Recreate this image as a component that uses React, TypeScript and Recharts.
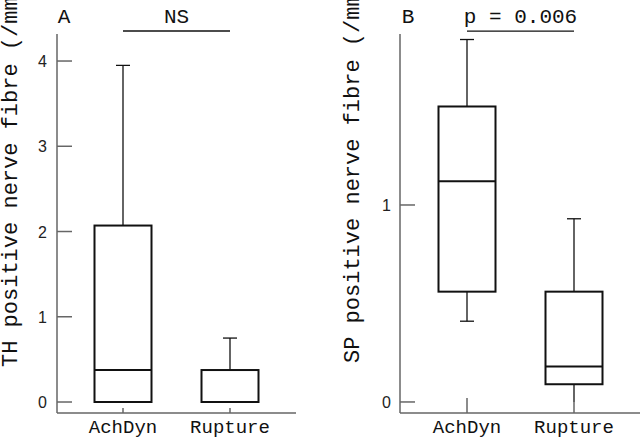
import React from 'react'
import {
  ComposedChart,
  Bar,
  XAxis,
  YAxis,
  ReferenceLine,
} from 'recharts'

// groups on the x axis
const groups = ['AchDyn', 'Rupture']

// panel A: TH positive nerve fibres
const thMin = [0, 0]
const thQ1 = [0, 0]
const thMedian = [0.375, 0]
const thQ3 = [2.07, 0.375]
const thMax = [3.95, 0.75]

// panel B: SP positive nerve fibres
const spMin = [0.41, 0]
const spQ1 = [0.56, 0.09]
const spMedian = [1.12, 0.18]
const spQ3 = [1.5, 0.56]
const spMax = [1.84, 0.93]

const thTicks = [0, 1, 2, 3, 4]
const spTicks = [0, 1]

const buildRows = (mn: number[], q1: number[], med: number[], q3: number[], mx: number[]) =>
  groups.map((name, i) => ({
    name,
    min: mn[i],
    q1: q1[i],
    median: med[i],
    q3: q3[i],
    max: mx[i],
  }))

const thData = buildRows(thMin, thQ1, thMedian, thQ3, thMax)
const spData = buildRows(spMin, spQ1, spMedian, spQ3, spMax)

const MONO = '"Liberation Mono", "Courier New", monospace'
const SANS = '"Liberation Sans", Arial, sans-serif'
const AXIS = '#666'

function BoxShape(props: any) {
  const { x, y, width, height, payload } = props
  const top = Math.min(y, y + height)
  const bottom = Math.max(y, y + height)
  const span = payload.max - payload.min || 1
  const py = (v: number) => bottom - ((v - payload.min) / span) * (bottom - top)
  const cx = x + width / 2
  const cap = 7
  return (
    <g>
      <line x1={cx} x2={cx} y1={py(payload.max)} y2={py(payload.q3)} stroke='#111' strokeWidth={1.3} />
      <line x1={cx - cap} x2={cx + cap} y1={py(payload.max)} y2={py(payload.max)} stroke='#111' strokeWidth={1.3} />
      <line x1={cx} x2={cx} y1={py(payload.q1)} y2={py(payload.min)} stroke='#111' strokeWidth={1.3} />
      {payload.min > 0 && (
        <line x1={cx - cap} x2={cx + cap} y1={py(payload.min)} y2={py(payload.min)} stroke='#111' strokeWidth={1.3} />
      )}
      <rect
        x={x}
        y={py(payload.q3)}
        width={width}
        height={py(payload.q1) - py(payload.q3)}
        fill='#fff'
        stroke='#111'
        strokeWidth={2}
      />
      <line x1={x} x2={x + width} y1={py(payload.median)} y2={py(payload.median)} stroke='#111' strokeWidth={2} />
    </g>
  )
}

const YTick = ({ x, y, payload, gap }: any) => (
  <g>
    <line x1={x} x2={x + 15} y1={y} y2={y} stroke={AXIS} strokeWidth={1.5} />
    <text x={x - gap} y={y + 6} textAnchor='end' fontFamily={SANS} fontSize={16} fill='#222'>
      {payload.value}
    </text>
  </g>
)

const XTick = ({ x, y, payload, len }: any) => (
  <g>
    <line x1={x} x2={x} y1={y} y2={y - len} stroke={AXIS} strokeWidth={1.5} />
    <text x={x} y={y + 20} textAnchor='middle' fontFamily={MONO} fontSize={19} fill='#111'>
      {payload.value}
    </text>
  </g>
)

type PanelProps = {
  data: any[]
  ticks: number[]
  domain: [number, number]
  bracketY: number
  bracketText: string
  letter: string
  letterX: number
  yLabel: string
  labelX: number
  labelY: number
  yAxisWidth: number
  marginRight: number
  padding: { left: number; right: number }
  tickGap: number
  xTickLen: number
}

function Panel(p: PanelProps) {
  return (
    <ComposedChart
      width={320}
      height={439}
      data={p.data}
      margin={{ top: 34, right: p.marginRight, bottom: 0, left: 0 }}
    >
      <XAxis
        dataKey='name'
        height={26}
        padding={p.padding}
        axisLine={{ stroke: AXIS, strokeWidth: 1.5 }}
        tickLine={false}
        tickSize={0}
        tickMargin={0}
        interval={0}
        tick={<XTick len={p.xTickLen} />}
      />
      <YAxis
        width={p.yAxisWidth}
        type='number'
        domain={p.domain}
        allowDataOverflow
        ticks={p.ticks}
        axisLine={{ stroke: AXIS, strokeWidth: 1.5 }}
        tickLine={false}
        tickSize={0}
        tickMargin={0}
        tick={<YTick gap={p.tickGap} />}
        label={{
          content: () => (
            <text
              transform={`translate(${p.labelX},${p.labelY}) rotate(-90)`}
              fontFamily={MONO}
              fontSize={22}
              fill='#111'
              textAnchor='start'
            >
              {p.yLabel}
            </text>
          ),
        }}
      />
      <Bar
        dataKey={(d: any) => [d.min, d.max]}
        barSize={57}
        shape={<BoxShape />}
        isAnimationActive={false}
      />
      <ReferenceLine
        segment={[
          { x: groups[0], y: p.bracketY },
          { x: groups[1], y: p.bracketY },
        ]}
        ifOverflow='visible'
        stroke='#111'
        strokeWidth={1.3}
        label={{
          value: p.bracketText,
          position: 'top',
          offset: 8,
          fontFamily: MONO,
          fontSize: 21,
          fill: '#111',
        }}
      />
      <text x={p.letterX} y={23} textAnchor='middle' fontFamily={MONO} fontSize={21} fill='#111'>
        {p.letter}
      </text>
    </ComposedChart>
  )
}

export default function App() {
  return (
    <div
      style={{
        position: 'absolute',
        left: 0,
        top: 0,
        width: 640,
        height: 439,
        display: 'flex',
        background: '#fff',
        overflow: 'hidden',
      }}
    >
      <Panel
        data={thData}
        ticks={thTicks}
        domain={[-0.129, 4.317]}
        bracketY={4.352}
        bracketText='NS'
        letter='A'
        letterX={64}
        yLabel='TH positive nerve fibre (/mm²)'
        labelX={17}
        labelY={367}
        yAxisWidth={57}
        marginRight={24}
        padding={{ left: 12.5, right: 12.5 }}
        tickGap={10}
        xTickLen={5}
      />
      <Panel
        data={spData}
        ticks={spTicks}
        domain={[-0.056, 1.868]}
        bracketY={1.883}
        bracketText='p = 0.006'
        letter='B'
        letterX={88}
        yLabel='SP positive nerve fibre (/mm²)'
        labelX={39}
        labelY={363}
        yAxisWidth={80}
        marginRight={0}
        padding={{ left: 13.5, right: 12.5 }}
        tickGap={9}
        xTickLen={15}
      />
    </div>
  )
}
